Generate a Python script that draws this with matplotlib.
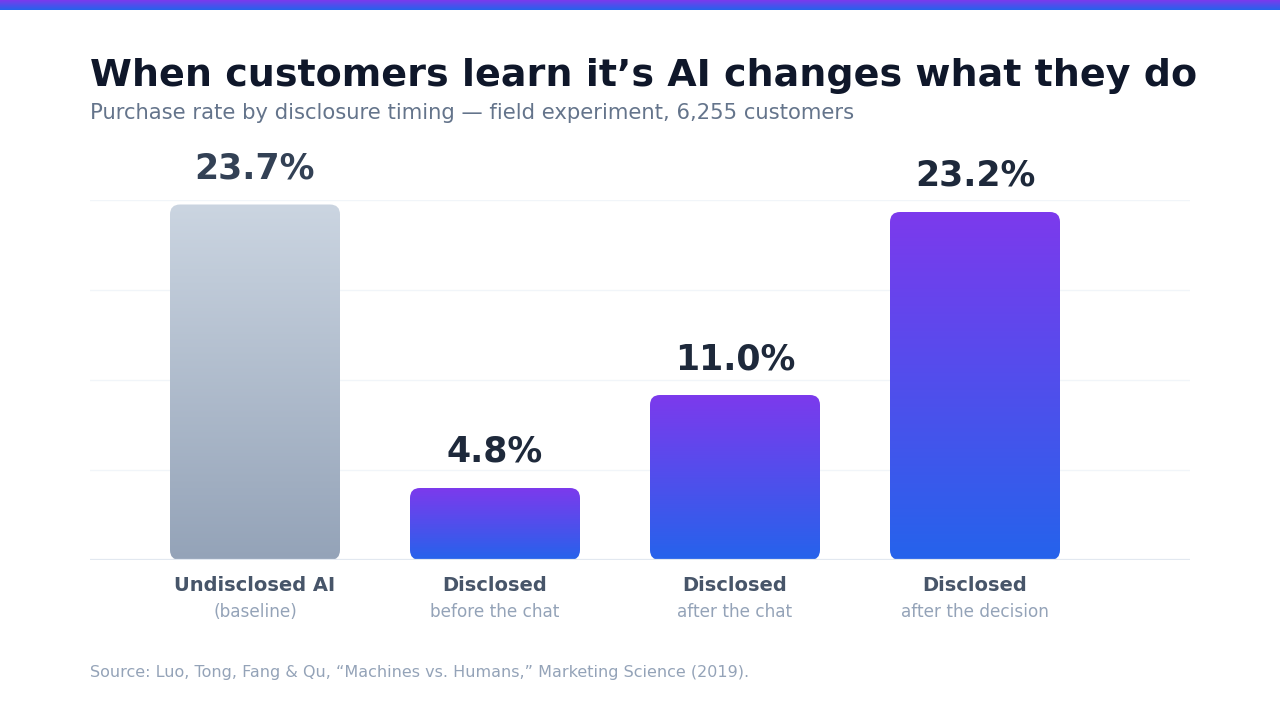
import numpy as np
import matplotlib
matplotlib.use("Agg")
import matplotlib.pyplot as plt
from matplotlib.patches import FancyBboxPatch
from matplotlib.colors import LinearSegmentedColormap

plt.rcParams['font.family'] = ['DejaVu Sans']

categories = ["Undisclosed AI", "Disclosed", "Disclosed", "Disclosed"]
sublabels = ["(baseline)", "before the chat", "after the chat", "after the decision"]
rates = [23.7, 4.8, 11.0, 23.2]
value_labels = ["23.7%", "4.8%", "11.0%", "23.2%"]
grid_ticks = [6, 12, 18, 24]

W, H = 1280, 720
fig = plt.figure(figsize=(12.8, 7.2), dpi=100)
fig.patch.set_facecolor("white")

# top stripe
stripe = fig.add_axes([0, 1 - 10 / H, 1, 10 / H])
grad_cmap = LinearSegmentedColormap.from_list("pb", ["#7c3aed", "#2563eb"])
stripe.imshow(np.linspace(0, 1, 64).reshape(-1, 1), aspect="auto", cmap=grad_cmap,
              extent=[0, 1, 0, 1])
stripe.axis("off")

# main axes: x 90..1190 px, y baseline at 560, 24 at 200
ax = fig.add_axes([90 / W, 1 - 560 / H, 1100 / W, 360 / H])
xmin, xmax = -165 / 240, 3 + 215 / 240
ax.axis("off")

for t in grid_ticks:
    ax.axhline(t, color="#f1f5f9", lw=1, zorder=0)
ax.axhline(0, color="#e2e8f0", lw=1.6, zorder=3)

gray_cmap = LinearSegmentedColormap.from_list("gr", ["#cbd5e1", "#94a3b8"])
width = 170 / 240
px_x = 240.0   # px per x unit
px_y = 15.0    # px per y unit
r_px = 10
for i, v in enumerate(rates):
    x0 = i - width / 2
    cmap = gray_cmap if i == 0 else grad_cmap
    img = ax.imshow(np.linspace(0, 1, 256).reshape(-1, 1), aspect="auto", cmap=cmap,
                    extent=[x0, x0 + width, 0, v], zorder=2, interpolation="bilinear")
    box = FancyBboxPatch((x0, 0), width, v,
                         boxstyle=f"round,pad=0,rounding_size={r_px / px_x}",
                         mutation_aspect=px_x / px_y, transform=ax.transData,
                         facecolor="none", edgecolor="none")
    ax.add_patch(box)
    img.set_clip_path(box)
    ax.annotate(value_labels[i], (i, v), xytext=(0, 26 * 0.72), textcoords="offset points",
                ha="center", va="baseline", fontsize=25, fontweight="bold",
                color="#334155" if i == 0 else "#1e293b", annotation_clip=False)
    ax.annotate(categories[i], (i, 0), xytext=(0, -31 * 0.72), textcoords="offset points",
                ha="center", va="baseline", fontsize=14, fontweight="bold",
                color="#475569", annotation_clip=False)
    ax.annotate(sublabels[i], (i, 0), xytext=(0, -57 * 0.72), textcoords="offset points",
                ha="center", va="baseline", fontsize=12.2, color="#94a3b8",
                annotation_clip=False)

ax.set_xlim(xmin, xmax)
ax.set_ylim(0, 24)

fig.text(90 / W, 1 - 86 / H, "When customers learn it\u2019s AI changes what they do",
         fontsize=27.4, fontweight="bold", color="#0f172a", ha="left", va="baseline")
fig.text(90 / W, 1 - 119 / H, "Purchase rate by disclosure timing \u2014 field experiment, 6,255 customers",
         fontsize=15.2, color="#64748b", ha="left", va="baseline")
fig.text(90 / W, 1 - 677 / H,
         "Source: Luo, Tong, Fang & Qu, \u201cMachines vs. Humans,\u201d Marketing Science (2019).",
         fontsize=11.5, color="#94a3b8", ha="left", va="baseline")

fig.savefig("out.png", dpi=100, facecolor="white")
